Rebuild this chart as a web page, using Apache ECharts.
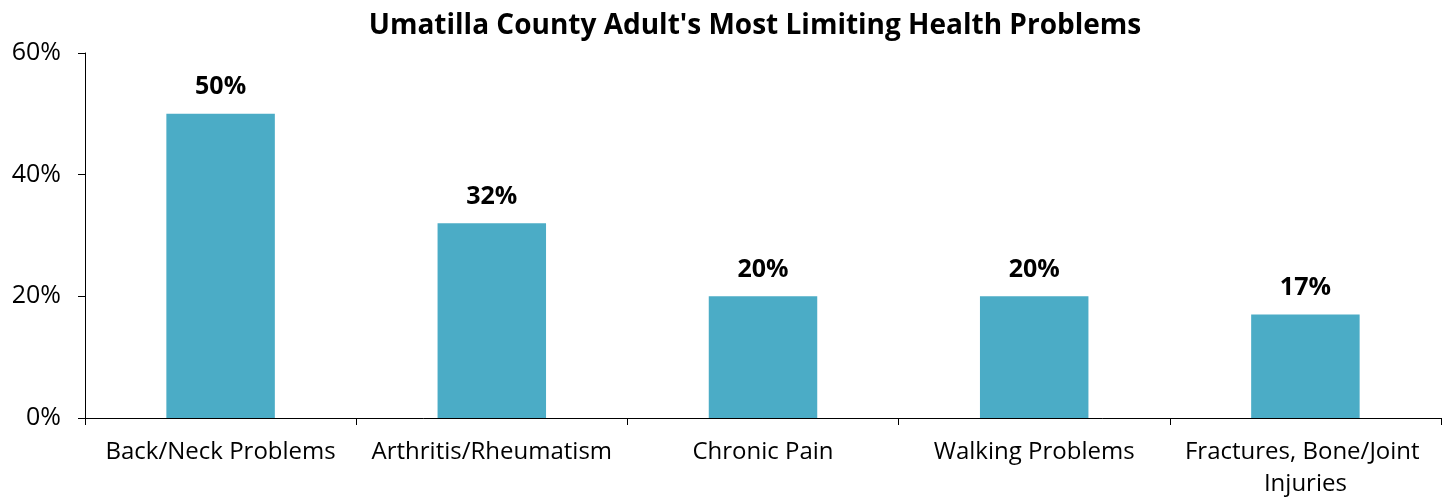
<!DOCTYPE html>
<html>
<head>
<meta charset="utf-8">
<script src="https://cdn.jsdelivr.net/npm/echarts@6/dist/echarts.min.js"></script>
<style>
  html, body { margin: 0; padding: 0; background: #fff; }
  #chart { width: 1450px; height: 500px; }
</style>
</head>
<body>
<div id="chart"></div>
<script>
// Chart data
const categories = ['Back/Neck Problems', 'Arthritis/Rheumatism', 'Chronic Pain', 'Walking Problems', 'Fractures, Bone/Joint Injuries'];
const percentValues = [50, 32, 20, 20, 17];
const yTicks = [0, 20, 40, 60];

const chart = echarts.init(document.getElementById('chart'));

const option = {
    animation: false,
    textStyle: { fontFamily: 'Open Sans' },
    title: {
        text: "Umatilla County Adult's Most Limiting Health Problems",
        left: 750,
        textAlign: 'center',
        top: 7,
        textStyle: { fontSize: 28, fontWeight: 'bold', color: '#000', fontFamily: 'Open Sans' }
    },
    grid: { left: 85, right: 9, top: 53, bottom: 81 },
    xAxis: {
        type: 'category',
        data: categories,
        axisLine: { lineStyle: { color: '#000', width: 1 } },
        axisTick: { show: true, alignWithLabel: false, length: 7, lineStyle: { color: '#000' } },
        axisLabel: {
            color: '#000', fontSize: 24, margin: 18, interval: 0,
            width: 266, overflow: 'break', lineHeight: 32
        }
    },
    yAxis: {
        type: 'value',
        min: yTicks[0],
        max: yTicks[yTicks.length - 1],
        interval: 20,
        splitLine: { show: false },
        axisLine: { show: true, lineStyle: { color: '#000', width: 1 } },
        axisTick: { show: true, length: 7, lineStyle: { color: '#000' } },
        axisLabel: { color: '#000', fontSize: 25, margin: 24, formatter: '{value}%' }
    },
    series: [{
        type: 'bar',
        data: percentValues,
        barWidth: '40%',
        itemStyle: { color: '#4BACC6' },
        label: {
            show: true,
            position: 'top',
            distance: 14,
            formatter: '{c}%',
            color: '#000',
            fontSize: 25,
            fontWeight: 'bold'
        }
    }]
};

chart.setOption(option);
</script>
</body>
</html>
